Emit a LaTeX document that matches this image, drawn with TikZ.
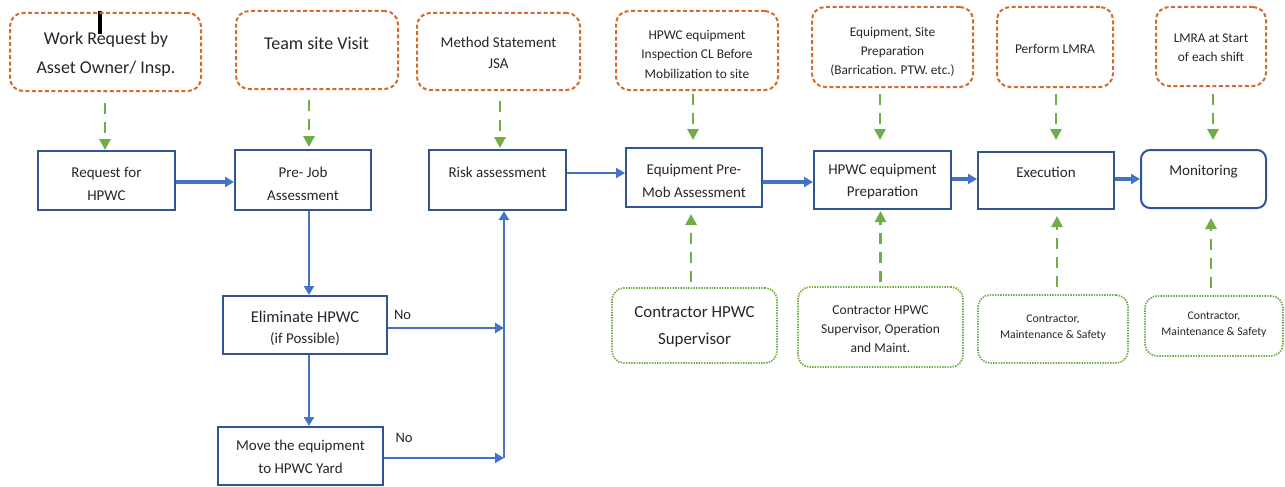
\documentclass[tikz,border=0pt]{standalone}
\usepackage{fontspec}
\setmainfont{Carlito}
\usetikzlibrary{arrows.meta}
\definecolor{orangec}{RGB}{212,106,46}
\definecolor{greenc}{RGB}{112,173,71}
\definecolor{bluebox}{RGB}{47,85,151}
\definecolor{bluearr}{RGB}{68,114,196}
\definecolor{textc}{RGB}{38,38,38}
\tikzset{
  obox/.style={draw=orangec, line width=2pt, dash pattern=on 4pt off 2.5pt, rounded corners=13pt, inner sep=0pt},
  bbox/.style={draw=bluebox, line width=2pt, inner sep=0pt},
  gbox/.style={draw=greenc, line width=1.8pt, dash pattern=on 1.4pt off 1.2pt, rounded corners=12pt, inner sep=0pt},
  txt/.style={inner sep=0pt, align=center, text=textc},
  garrow/.style={draw=greenc, line width=2.8pt, dash pattern=on 11pt off 8pt, -{Triangle[length=11pt,width=11pt]}},
  barrow/.style={draw=bluearr, line width=2.8pt, -{Triangle[length=9pt,width=10pt]}},
}
\begin{document}
\begin{tikzpicture}[x=1pt,y=-1pt]
\useasboundingbox (0,0) rectangle (1285,487);
% cursor mark
\fill[black] (98,11) rectangle (102,34);

% top orange boxes
\node[obox, minimum width=191pt, minimum height=78pt] (o1) at (105.5,52) {};
\node[obox, minimum width=162pt, minimum height=78pt] (o2) at (317,50) {};
\node[obox, minimum width=163pt, minimum height=77pt] (o3) at (498.5,51.5) {};
\node[obox, minimum width=162pt, minimum height=79pt] (o4) at (697,50.5) {};
\node[obox, minimum width=161pt, minimum height=80pt] (o5) at (892.5,47) {};
\node[obox, minimum width=116pt, minimum height=80pt] (o6) at (1055,47) {};
\node[obox, minimum width=110pt, minimum height=79pt] (o7) at (1211,46.5) {};

\node[txt, font=\fontsize{18}{29}\selectfont] (t1) at (106,54.3) {Work Request by\\Asset Owner/ Insp.};
\node[txt, font=\fontsize{18}{29}\selectfont] (t2) at (316.5,43) {Team site Visit};
\node[txt, font=\fontsize{15}{21}\selectfont] (t3) at (498.5,52.5) {Method Statement\\JSA};
\node[txt, font=\fontsize{13.4}{19.5}\selectfont] (t4) at (697,54) {HPWC equipment\\Inspection CL Before\\Mobilization to site};
\node[txt, font=\fontsize{13.3}{19}\selectfont] (t5) at (892.5,51.6) {Equipment, Site\\Preparation\\(Barrication. PTW. etc.)};
\node[txt, font=\fontsize{13.5}{19}\selectfont] (t6) at (1055,48.6) {Perform LMRA};
\node[txt, font=\fontsize{13.3}{19}\selectfont] (t7) at (1211,48.1) {LMRA at Start\\of each shift};

% blue process boxes
\node[bbox, minimum width=137pt, minimum height=59pt] (a) at (106.5,180.5) {};
\node[bbox, minimum width=136pt, minimum height=60pt] (b) at (303,180) {};
\node[bbox, minimum width=137pt, minimum height=60pt] (c) at (497.5,180) {};
\node[bbox, minimum width=136pt, minimum height=59pt] (d) at (694,177.5) {};
\node[bbox, minimum width=137pt, minimum height=58pt] (e) at (882.5,180) {};
\node[bbox, minimum width=136pt, minimum height=57pt] (f) at (1046,180.5) {};
\node[bbox, rounded corners=9pt, minimum width=125pt, minimum height=58pt] (g) at (1203.5,179) {};
\node[bbox, minimum width=164pt, minimum height=58pt] (el) at (305,325) {};
\node[bbox, minimum width=165pt, minimum height=58pt] (mv) at (300.5,456) {};

\node[txt, font=\fontsize{15}{23}\selectfont] (ta) at (106.5,183.5) {Request for\\HPWC};
\node[txt, font=\fontsize{15}{23}\selectfont] (tb) at (303,183.5) {Pre- Job\\Assessment};
\node[txt, font=\fontsize{15}{23}\selectfont] (tc) at (497.5,172) {Risk assessment};
\node[txt, font=\fontsize{15}{23}\selectfont] (td) at (694,180.5) {Equipment Pre-\\Mob Assessment};
\node[txt, font=\fontsize{15}{22}\selectfont] (te) at (882.5,182) {HPWC equipment\\Preparation};
\node[txt, font=\fontsize{15}{23}\selectfont] (tf) at (1046,172) {Execution};
\node[txt, font=\fontsize{15}{23}\selectfont] (tg) at (1203.5,172) {Monitoring};
\node[txt, font=\fontsize{16.5}{21}\selectfont] (tel) at (305,328) {Eliminate HPWC\\{\fontsize{15}{21}\selectfont (if Possible)}};
\node[txt, font=\fontsize{15}{23}\selectfont] (tmv) at (300.5,456.5) {Move the equipment\\to HPWC Yard};

% bottom green boxes
\node[gbox, minimum width=165pt, minimum height=75pt] (h) at (694.5,325.5) {};
\node[gbox, minimum width=165pt, minimum height=80pt] (i) at (880.5,327) {};
\node[gbox, minimum width=150pt, minimum height=68pt] (j) at (1053,329) {};
\node[gbox, minimum width=138pt, minimum height=60pt] (k) at (1214,326) {};

\node[txt, font=\fontsize{16.9}{27}\selectfont] (th) at (694.5,327) {Contractor HPWC\\Supervisor};
\node[txt, font=\fontsize{13.5}{19}\selectfont] (ti) at (880.5,329.5) {Contractor HPWC\\Supervisor, Operation\\and Maint.};
\node[txt, font=\fontsize{11.8}{16}\selectfont] (tj) at (1053,328) {Contractor,\\Maintenance \& Safety};
\node[txt, font=\fontsize{11.7}{16}\selectfont] (tk) at (1214,325) {Contractor,\\Maintenance \& Safety};

% No labels
\node[txt, font=\fontsize{14.5}{18}\selectfont] (no1) at (402.5,315) {No};
\node[txt, font=\fontsize{14.5}{18}\selectfont] (no2) at (404,438) {No};

% green dashed arrows from top
\draw[garrow, shorten <=11pt] ([xshift=-0.5pt]o1.south) -- ([xshift=-0.5pt]o1.south |- a.north);
\draw[garrow, shorten <=10pt, shorten >=2pt] ([xshift=-8pt]o2.south) -- ([xshift=-8pt]o2.south |- b.north);
\draw[garrow, shorten <=10pt, shorten >=1pt] ([xshift=1.5pt]o3.south) -- ([xshift=1.5pt]o3.south |- c.north);
\draw[garrow, shorten <=3pt, shorten >=7pt] ([xshift=-4pt]o4.south) -- ([xshift=-4pt]o4.south |- d.north);
\draw[garrow, shorten <=6pt, shorten >=10pt] ([xshift=-12.5pt]o5.south) -- ([xshift=-12.5pt]o5.south |- e.north);
\draw[garrow, shorten <=6pt, shorten >=11pt] ([xshift=1pt]o6.south) -- ([xshift=1pt]o6.south |- f.north);
\draw[garrow, shorten <=7pt, shorten >=9pt] ([xshift=2pt]o7.south) -- ([xshift=2pt]o7.south |- g.north);

% green dashed arrows from bottom
\draw[garrow, shorten <=5pt, shorten >=6pt] ([xshift=-3.5pt]h.north) -- ([xshift=-3.5pt]h.north |- d.south);
\draw[garrow, shorten <=4pt, shorten >=1pt] (i.north) -- (i.north |- e.south);
\draw[garrow, shorten <=7pt, shorten >=6pt] ([xshift=4pt]j.north) -- ([xshift=4pt]j.north |- f.south);
\draw[garrow, shorten <=7pt, shorten >=9pt] ([xshift=-3pt]k.north) -- ([xshift=-3pt]k.north |- g.south);

% blue flow arrows
\draw[barrow, line width=3.6pt] ([yshift=-1.5pt]a.east) -- ([yshift=-1.5pt]a.east -| b.west);
\draw[barrow] ([yshift=7pt]c.east) -- ([yshift=7pt]c.east -| d.west);
\draw[barrow, line width=3.6pt] ([yshift=-4.5pt]d.east) -- ([yshift=-4.5pt]d.east -| e.west);
\draw[barrow, line width=3.2pt] ([yshift=1pt]e.east) -- ([yshift=1pt]e.east -| f.west);
\draw[barrow, line width=3.2pt] ([yshift=1.5pt]f.east) -- ([yshift=1.5pt]f.east -| g.west);
\draw[barrow] ([xshift=6pt]b.south) -- ([xshift=6pt]b.south |- el.north);
\draw[barrow] ([xshift=4pt]el.south) -- ([xshift=4pt]el.south |- mv.north);

\coordinate (j1) at (504,328);
\coordinate (j2) at (504,458);
\draw[barrow] ([yshift=-3pt]el.east) -- (j1);
\draw[barrow] ([yshift=-2pt]mv.east) -- (j2);
\draw[barrow] (j2) -- (j2 |- c.south);
\end{tikzpicture}
\end{document}
